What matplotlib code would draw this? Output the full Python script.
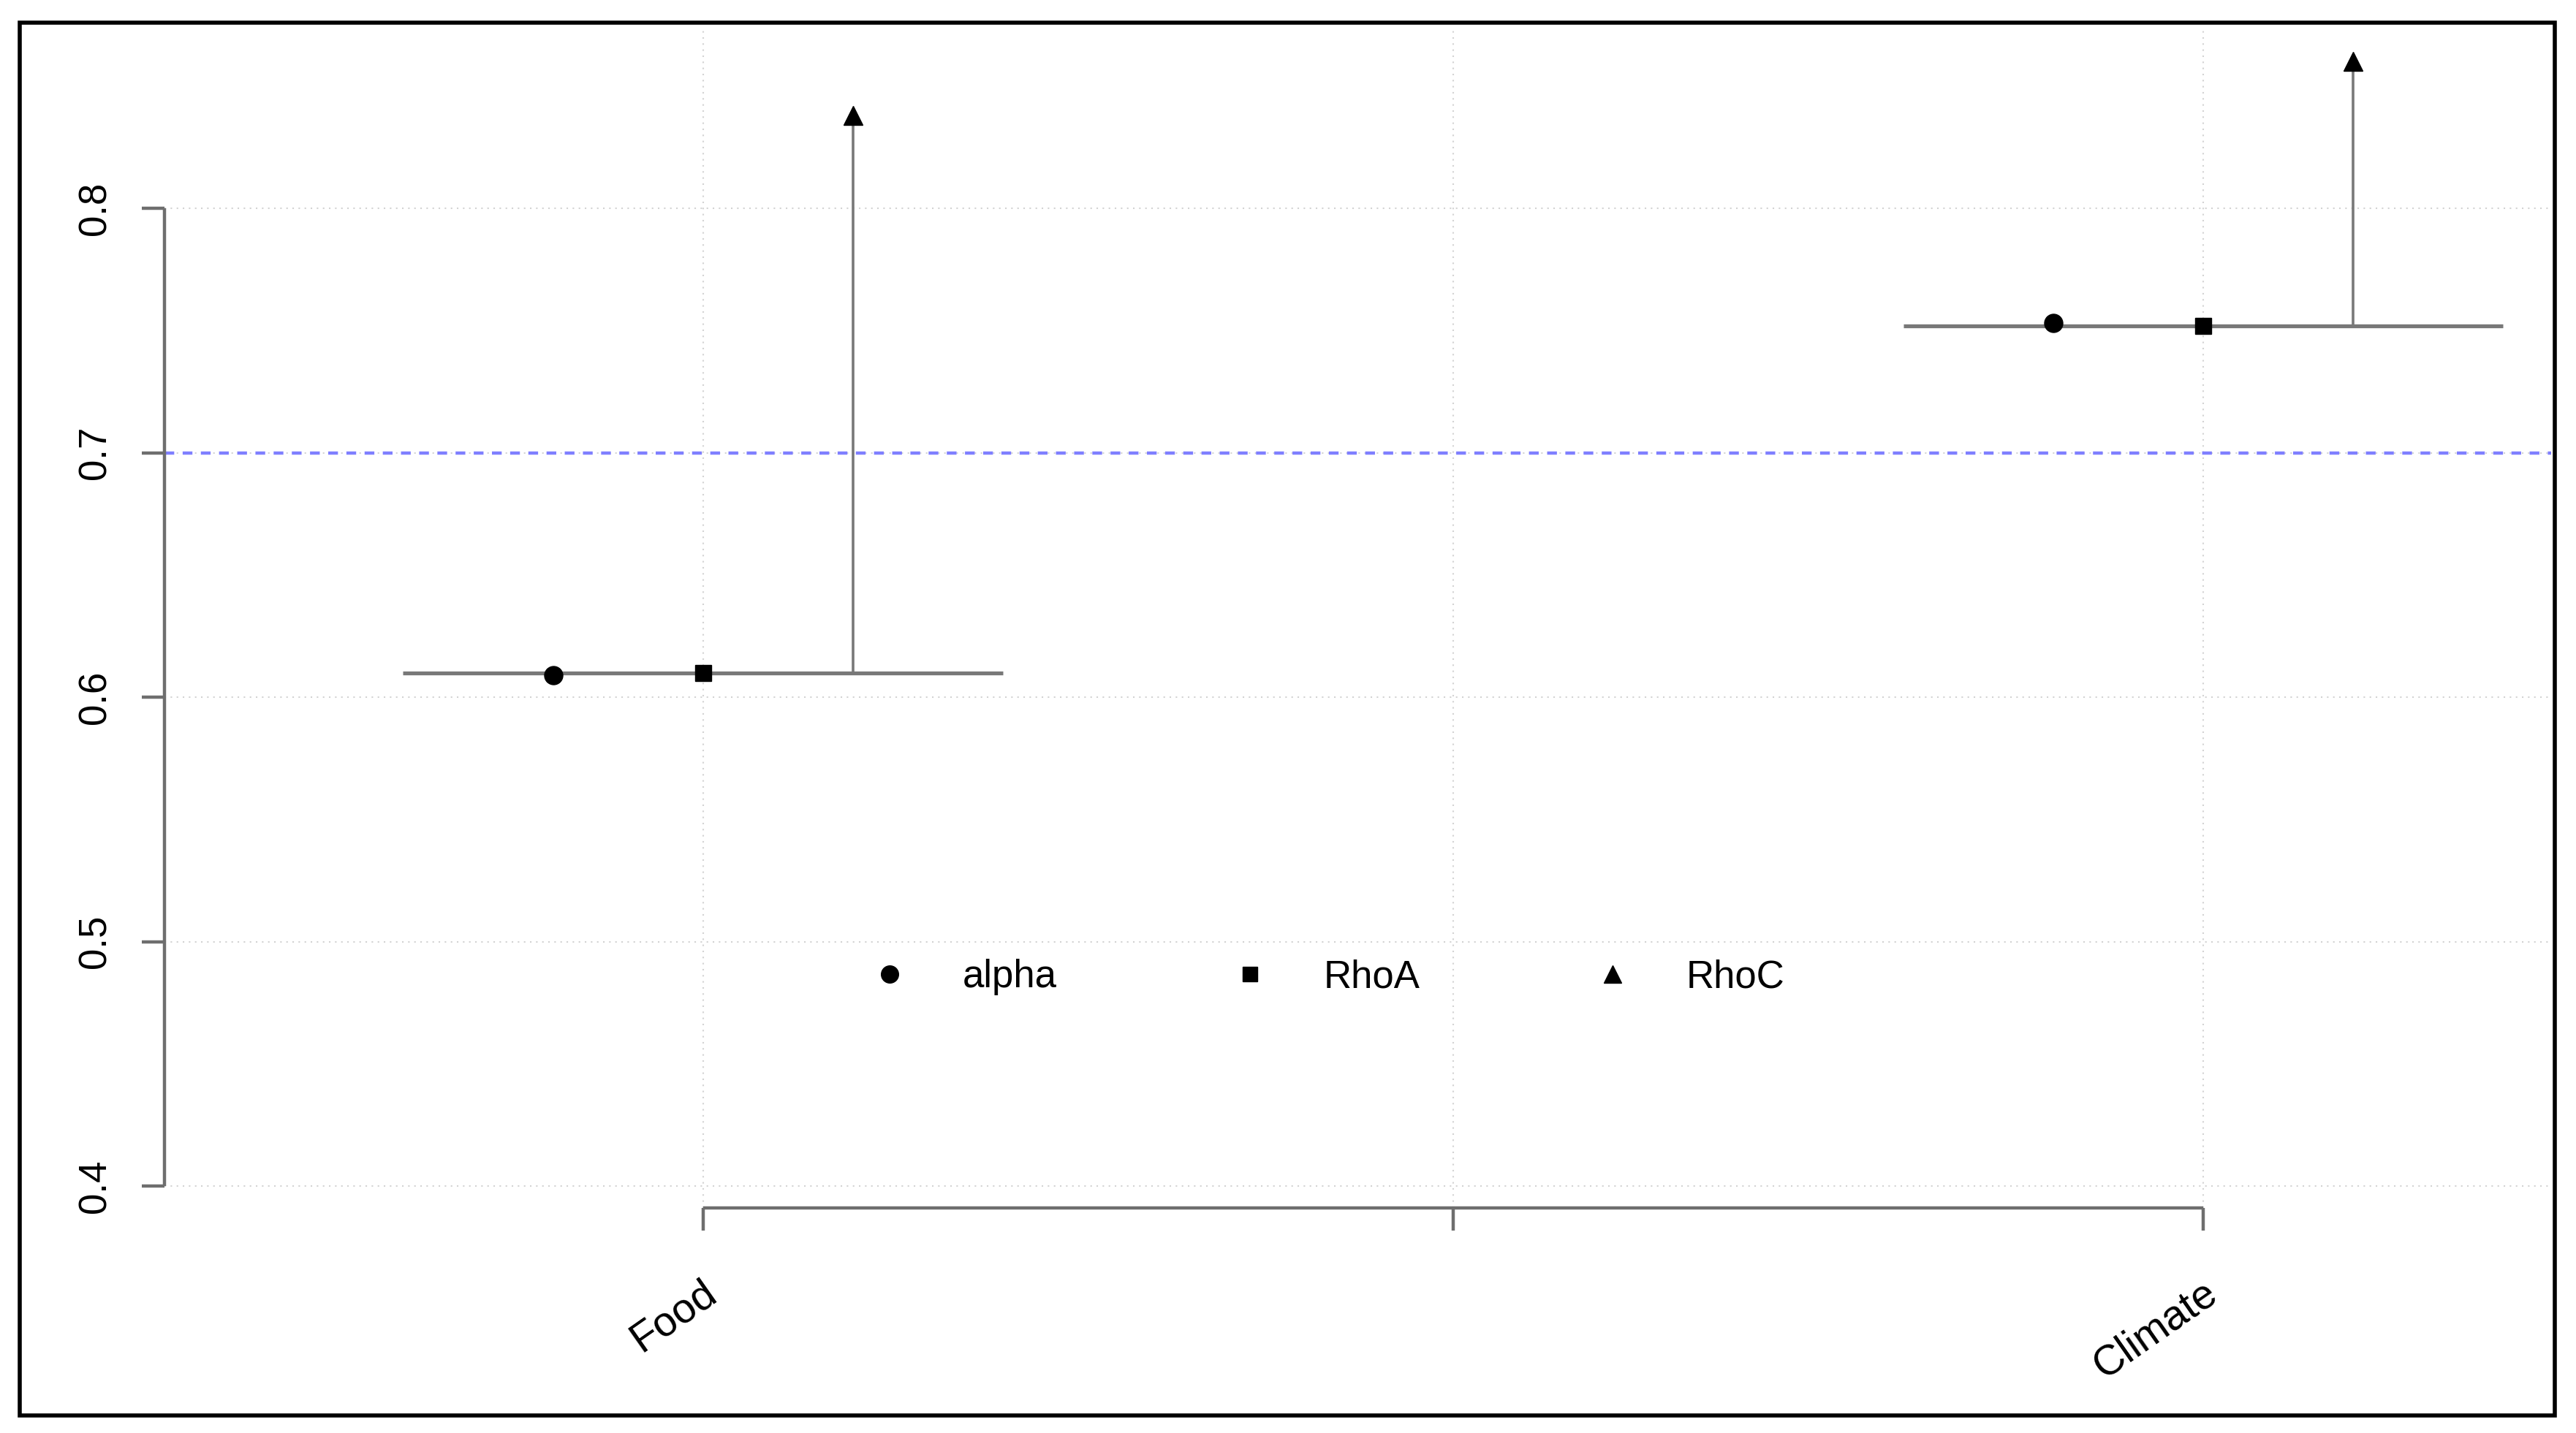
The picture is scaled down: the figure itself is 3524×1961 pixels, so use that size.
import matplotlib
matplotlib.use("Agg")
import matplotlib.pyplot as plt
import matplotlib.transforms as mtransforms
from matplotlib.lines import Line2D
from matplotlib.patches import Rectangle

plt.rcParams['font.family'] = ['Liberation Sans', 'DejaVu Sans']

# --- data ---
categories = ["Food", "Climate"]
cat_pos = [1, 3]
alpha_vals = [0.609, 0.753]
rhoA_vals = [0.610, 0.752]
rhoC_vals = [0.838, 0.860]
threshold = 0.7
xtick_pos = [1, 2, 3]
xtick_labels = ["Food", "", "Climate"]
ytick_vals = [0.4, 0.5, 0.6, 0.7, 0.8]

offset = 0.2      # alpha left of centre, RhoC right of centre
half_width = 0.4  # half length of the horizontal bar

fig = plt.figure(figsize=(35.24, 19.61), dpi=100)
ax = fig.add_axes([0.0638, 0.157, 0.9266, 0.8226])

axis_col = "#6e6e6e"
seg_col = "#787878"

# grid (R style dotted light grey)
for yv in ytick_vals:
    ax.axhline(yv, color="#d3d3d3", lw=1.5, ls=(0, (1, 3)), zorder=0)
for xv in xtick_pos:
    ax.axvline(xv, color="#d3d3d3", lw=1.5, ls=(0, (1, 3)), zorder=0)

ax.axhline(threshold, color="#7f7fff", lw=3.2, ls=(0, (3, 2.6)), zorder=1)

for x, a, ra, rc in zip(cat_pos, alpha_vals, rhoA_vals, rhoC_vals):
    ax.plot([x - half_width, x + half_width], [ra, ra], color=seg_col, lw=3.8,
            solid_capstyle="butt", zorder=2)
    ax.plot([x + offset, x + offset], [ra, rc], color=seg_col, lw=2.6, zorder=2)
    ax.plot(x - offset, a, "o", color="black", ms=18, zorder=3)
    ax.plot(x, ra, "s", color="black", ms=16, zorder=3)
    ax.plot(x + offset, rc, "^", color="black", ms=19, zorder=3)

ax.set_xlim(0.2817, 3.464)
ax.set_ylim(0.391, 0.8733)

for s in ["top", "right"]:
    ax.spines[s].set_visible(False)
for s in ["left", "bottom"]:
    ax.spines[s].set_color(axis_col)
    ax.spines[s].set_linewidth(3.2)
    ax.spines[s].set_capstyle("butt")
ax.spines["left"].set_bounds(0.4, 0.8)
ax.spines["bottom"].set_bounds(1, 3)

ax.set_yticks(ytick_vals)
ax.set_yticklabels([f"{v:.1f}" for v in ytick_vals])
ax.set_xticks(xtick_pos)
ax.set_xticklabels(xtick_labels)
ax.tick_params(axis="both", colors=axis_col, width=3.2, length=22,
               labelcolor="black", labelsize=38)
ax.tick_params(axis="y", labelrotation=90, pad=28)
for lab in ax.get_yticklabels():
    lab.set_va("center")
ax.tick_params(axis="x", pad=58)
shift = mtransforms.ScaledTranslation(0.13, 0, fig.dpi_scale_trans)
for lab in ax.get_xticklabels():
    lab.set_rotation(35)
    lab.set_ha("right")
    lab.set_va("center")
    lab.set_rotation_mode("anchor")
    lab.set_fontsize(41)
    lab.set_transform(lab.get_transform() + shift)

handles = [
    Line2D([], [], ls="none", marker="o", color="black", ms=17, label="alpha"),
    Line2D([], [], ls="none", marker="s", color="black", ms=15, label="RhoA"),
    Line2D([], [], ls="none", marker="^", color="black", ms=17, label="RhoC"),
]
fig.legend(handles=handles, loc="center", bbox_to_anchor=(0.516, 0.318),
           ncol=3, frameon=False, fontsize=38, handlelength=0.8,
           handletextpad=1.5, columnspacing=4.6)

# outer black frame of the image
fig.patches.append(Rectangle((27 / 3524, 1 - 1937 / 1961), (3495 - 27) / 3524,
                             (1937 - 31) / 1961, transform=fig.transFigure,
                             fill=False, edgecolor="black", lw=4, zorder=10))

fig.savefig("out.png", dpi=100)
